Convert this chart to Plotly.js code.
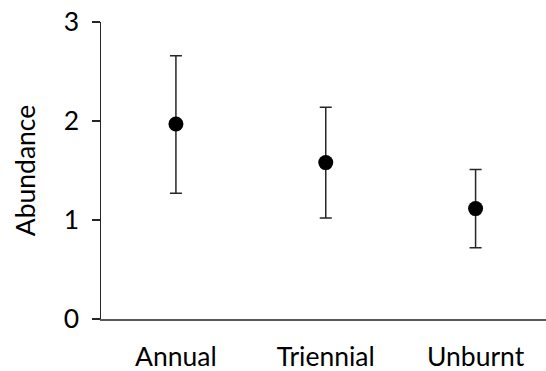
<!DOCTYPE html>
<html>
<head>
<meta charset="utf-8">
<script src="https://cdn.plot.ly/plotly-3.0.1.min.js"></script>
<style>html,body{margin:0;padding:0;background:#fff;}#chart{width:546px;height:371px;}</style>
</head>
<body>
<div id="chart"></div>
<script>
var categories = ["Annual", "Triennial", "Unburnt"];
var abundance = [1.97, 1.58, 1.115];
var errUpper = [2.66, 2.14, 1.51];
var errLower = [1.27, 1.02, 0.72];
var yTicks = [0, 1, 2, 3];

var plus = abundance.map(function(v, i){ return errUpper[i] - v; });
var minus = abundance.map(function(v, i){ return v - errLower[i]; });

var trace = {
  x: categories,
  y: abundance,
  type: 'scatter',
  mode: 'markers',
  marker: {color: '#000000', size: 15},
  error_y: {type: 'data', symmetric: false, array: plus, arrayminus: minus,
            color: '#262626', thickness: 1.5, width: 6},
  hoverinfo: 'none'
};

var font = {family: 'Lato, "Open Sans", sans-serif', size: 26.5, color: '#000000'};

var layout = {
  width: 546, height: 371,
  margin: {l: 101, r: 0, t: 22, b: 52, pad: 0},
  paper_bgcolor: '#ffffff', plot_bgcolor: '#ffffff',
  showlegend: false,
  font: font,
  xaxis: {
    type: 'category', range: [-0.5, 2.47],
    showline: true, linecolor: '#595959', linewidth: 2,
    showgrid: false, zeroline: false,
    ticks: '', tickfont: font, ticklabelstandoff: 13
  },
  yaxis: {
    range: [0, 3], tickvals: yTicks, ticktext: yTicks.map(String),
    showline: true, linecolor: '#262626', linewidth: 1.5,
    showgrid: false, zeroline: false,
    ticks: 'outside', ticklen: 8, tickwidth: 1.5, tickcolor: '#262626',
    tickfont: font, ticklabelstandoff: 7,
    title: {text: 'Abundance', font: font, standoff: 20}
  }
};

Plotly.newPlot('chart', [trace], layout, {staticPlot: true, displayModeBar: false});
</script>
</body>
</html>
